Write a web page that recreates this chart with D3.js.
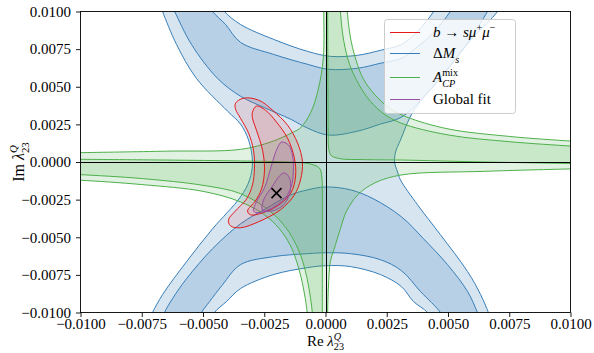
<!DOCTYPE html>
<html>
<head>
<meta charset="utf-8">
<script src="https://cdn.jsdelivr.net/npm/d3@7"></script>
<style>
  body { margin: 0; background: #fff; }
  svg { display: block; }
  text { font-family: "Liberation Serif", "DejaVu Serif", serif; fill: #000; }
</style>
</head>
<body>
<svg id="chart" width="594" height="353"></svg>
<script>
// every coordinate below is in units of 1e-3 (Re, Im of lambda_23^Q)
const tickValues = [-10, -7.5, -5, -2.5, 0, 2.5, 5, 7.5, 10]
const tickLabels = ['\u22120.0100', '\u22120.0075', '\u22120.0050', '\u22120.0025', '0.0000', '0.0025', '0.0050', '0.0075', '0.0100']

// Delta M_s : 2 sigma (outer) and 1 sigma (inner) contours
const dmsOuterLeft = [[-6.78, 10.6], [-6.65, 10], [-6.08, 7.81], [-5.27, 5.56], [-4.0, 3.38], [-3.47, 2.52], [-3.14, 1.46], [-2.98, 0], [-3.10, -1.19], [-3.47, -2.32], [-4.61, -4.44], [-5.67, -6.62], [-6.65, -8.81], [-7.06, -10], [-7.22, -10.6]]
const dmsOuterRight = [[7.18, 10.53], [7.02, 10], [5.92, 8.08], [4.90, 5.96], [3.59, 3.38], [3.06, 1.46], [2.86, 0.66], [2.82, 0], [2.94, -0.66], [3.06, -1.19], [3.76, -2.85], [4.69, -4.83], [5.80, -7.28], [6.33, -8.81], [6.65, -10], [6.78, -10.6]]
const dmsArcTopOuter = [[-4.29, 10.53], [-4.12, 10], [-3.47, 9.14], [-2.12, 8.15], [-0.73, 7.35], [0.20, 7.02], [1.31, 7.09], [2.24, 7.42], [3.10, 7.81], [3.67, 8.54], [4.08, 9.27], [4.41, 10], [4.57, 10.53]]
const dmsArcBotOuter = [[-4.69, -10.6], [-4.53, -10], [-4.04, -9.27], [-3.47, -8.41], [-2.12, -7.48], [-0.73, -7.02], [0.0, -6.89], [1.02, -6.95], [2.24, -7.48], [3.10, -8.28], [3.59, -9.27], [4.16, -10], [4.33, -10.6]]
const dmsBandTopLow = [[-6.33, 10.53], [-6.16, 10], [-5.47, 7.81], [-4.41, 5.56], [-3.47, 4.37], [-2.45, 3.58], [-1.43, 2.85], [-0.73, 2.25], [0.12, 1.79], [1.31, 2.05], [2.24, 2.52], [3.10, 2.98], [4.08, 4.44], [5.10, 6.42], [5.92, 8.21], [6.61, 10], [6.78, 10.53]]
const dmsBandTopHigh = [[-4.78, 10.53], [-4.61, 10], [-4.08, 9.14], [-3.47, 7.95], [-2.12, 7.15], [-0.73, 6.49], [0.12, 6.16], [1.31, 6.23], [2.24, 6.56], [3.10, 6.89], [3.67, 7.55], [4.37, 8.54], [5.10, 10], [5.31, 10.53]]
const dmsBandBotHigh = [[-6.69, -10.6], [-6.57, -10], [-6.24, -9.07], [-5.67, -7.75], [-4.61, -5.76], [-3.47, -4.11], [-2.45, -3.11], [-1.43, -2.19], [-0.73, -1.85], [0.0, -1.66], [1.02, -1.85], [1.96, -2.45], [3.10, -3.64], [4.0, -5.10], [4.98, -6.82], [5.80, -8.61], [6.20, -10], [6.33, -10.6]]
const dmsBandBotLow = [[-5.22, -10.6], [-5.06, -10], [-4.73, -9.27], [-4.20, -8.15], [-3.47, -6.82], [-2.12, -6.29], [-0.73, -6.09], [0.0, -6.03], [1.02, -6.09], [2.24, -6.49], [3.10, -7.22], [3.88, -8.61], [4.69, -10], [4.86, -10.6]]

// A_CP^mix contours (2 sigma: Q2/Q4 branch and outer Q1/Q3 branch; 1 sigma: inner + mid branch)
const acpQ2Outer = [[-10.6, 0.6], [-10, 0.62], [-6.5, 0.72], [-3.47, 0.84], [-2.2, 1.35], [-1.3, 2.0], [-1.02, 2.27], [-0.6, 3.3], [-0.3, 4.8], [-0.09, 6.9], [-0.07, 10], [-0.07, 10.6]]
const acpQ4Outer = [[10.6, -0.44], [10, -0.46], [6.5, -0.62], [3.1, -0.86], [2.0, -1.4], [1.31, -2.19], [0.85, -3.3], [0.61, -4.43], [0.35, -5.8], [0.2, -6.6], [0.12, -8.3], [0.09, -10], [0.09, -10.6]]
const acpQ1Inner = [[0.09, 10.6], [0.09, 10], [0.1, 5], [0.11, 2], [0.13, 0.9], [0.22, 0.45], [0.6, 0.22], [1.5, 0.16], [3.1, 0.13], [6.5, 0.0], [10, -0.1], [10.6, -0.12]]
const acpQ3Inner = [[-0.13, -10.6], [-0.13, -10], [-0.13, -5], [-0.13, -2], [-0.15, -1.0], [-0.25, -0.4], [-0.68, -0.11], [-1.5, 0.0], [-3.47, 0.07], [-6.5, 0.13], [-10, 0.18], [-10.6, 0.19]]
const acpQ1Mid = [[0.61, 10.6], [0.61, 10], [0.75, 8], [0.98, 6.5], [1.25, 5.5], [1.7, 4.3], [2.3, 3.3], [3.06, 2.6], [5, 1.8], [7.5, 1.35], [10, 1.06], [10.6, 1.0]]
const acpQ1Out = [[0.89, 10.6], [0.89, 10], [1.05, 8], [1.3, 6.5], [1.55, 5.5], [2.0, 4.5], [2.6, 3.6], [3.3, 3.0], [5, 2.2], [7.5, 1.7], [10, 1.39], [10.6, 1.33]]
const acpQ3Mid = [[-0.54, -10.6], [-0.54, -10], [-0.72, -8], [-0.95, -6.5], [-1.2, -5.5], [-1.6, -4.4], [-2.24, -3.3], [-3.47, -2.1], [-5, -1.55], [-7.5, -1.1], [-10, -0.84], [-10.6, -0.8]]
const acpQ3Out = [[-0.75, -10.6], [-0.75, -10], [-0.95, -8], [-1.2, -6.5], [-1.45, -5.5], [-1.9, -4.4], [-2.5, -3.5], [-3.47, -2.65], [-5, -1.95], [-7.5, -1.5], [-10, -1.21], [-10.6, -1.17]]

// b -> s mu mu
const bsmmOuter = [[-3.67, 3.91], [-3.35, 4.24], [-2.73, 4.11], [-2.16, 3.44], [-1.55, 2.45], [-1.14, 1.26], [-0.94, 0], [-1.02, -1.19], [-1.27, -2.19], [-1.84, -3.18], [-2.73, -3.97], [-3.47, -4.37], [-3.88, -4.24], [-3.96, -3.84], [-3.71, -3.31], [-3.22, -2.45], [-2.98, -1.52], [-2.90, -0.40], [-2.94, 0.79], [-3.14, 1.92], [-3.47, 2.91], [-3.67, 3.51]]
const bsmmInner = [[-2.98, 3.31], [-2.82, 3.71], [-2.45, 3.44], [-2.0, 2.65], [-1.55, 1.59], [-1.27, 0.26], [-1.22, -0.93], [-1.39, -1.99], [-1.84, -2.78], [-2.45, -3.31], [-3.06, -3.51], [-3.18, -3.25], [-2.86, -2.58], [-2.61, -1.79], [-2.49, -0.53], [-2.57, 0.79], [-2.82, 2.12], [-2.98, 2.91]]

// global fit
const globalOuter = [[-1.80, 1.32], [-1.51, 1.13], [-1.35, 0.46], [-1.31, -0.53], [-1.39, -1.59], [-1.67, -2.45], [-2.16, -3.05], [-2.73, -3.38], [-2.94, -3.25], [-2.82, -2.65], [-2.49, -1.72], [-2.20, -0.20], [-2.0, 0.79]]
const globalInner = [[-1.67, -0.73], [-1.47, -1.06], [-1.43, -1.85], [-1.67, -2.78], [-2.16, -3.25], [-2.57, -3.18], [-2.53, -2.52], [-2.16, -1.59], [-1.88, -0.93]]
const bestFit = [-2.0, -2.07]

const legendItems = ['bsmm', 'dms', 'acp', 'global']
const colors = { bsmm: '#e41a1c', dms: '#377eb8', acp: '#4daf4a', global: '#984ea3' }

const svg = d3.select('#chart')
const plot = { left: 80.5, right: 570.5, top: 11.5, bottom: 312.5 }
const x = d3.scaleLinear().domain([-10, 10]).range([plot.left, plot.right])
const y = d3.scaleLinear().domain([-10, 10]).range([plot.bottom, plot.top])

svg.append('defs').append('clipPath').attr('id', 'clip')
  .append('rect')
  .attr('x', plot.left).attr('y', plot.top)
  .attr('width', plot.right - plot.left).attr('height', plot.bottom - plot.top)

const g = svg.append('g').attr('clip-path', 'url(#clip)')

const open = d3.line().x(d => x(d[0])).y(d => y(d[1])).curve(d3.curveCatmullRom.alpha(0.5))
const closed = d3.line().x(d => x(d[0])).y(d => y(d[1])).curve(d3.curveCatmullRomClosed.alpha(0.5))
const rev = a => a.slice().reverse()
// join several open curves into one filled outline
const region = parts => parts.map((p, i) => i ? open(p).replace(/^M/, 'L') : open(p)).join('') + 'Z'

function fill(d, color, alpha) {
  g.append('path').attr('d', d).attr('fill', color).attr('fill-opacity', alpha).attr('stroke', 'none')
}
function stroke(d, color) {
  g.append('path').attr('d', d).attr('fill', 'none').attr('stroke', color).attr('stroke-width', 1)
}

// Delta M_s
fill(region([dmsOuterLeft, dmsArcBotOuter, rev(dmsOuterRight), rev(dmsArcTopOuter)]), colors.dms, 0.2)
fill(region([dmsBandTopLow, rev(dmsBandTopHigh)]), colors.dms, 0.2)
fill(region([dmsBandBotHigh, rev(dmsBandBotLow)]), colors.dms, 0.2)
;[dmsOuterLeft, dmsOuterRight, dmsArcTopOuter, dmsArcBotOuter, dmsBandTopLow, dmsBandTopHigh, dmsBandBotHigh, dmsBandBotLow]
  .forEach(c => stroke(open(c), colors.dms))

// A_CP^mix
fill(region([acpQ2Outer, acpQ1Out, acpQ4Outer, acpQ3Out]), colors.acp, 0.16)
fill(region([acpQ1Inner, rev(acpQ1Mid)]), colors.acp, 0.16)
fill(region([acpQ3Inner, rev(acpQ3Mid)]), colors.acp, 0.16)
;[acpQ2Outer, acpQ4Outer, acpQ1Inner, acpQ3Inner, acpQ1Mid, acpQ1Out, acpQ3Mid, acpQ3Out]
  .forEach(c => stroke(open(c), colors.acp))

// b -> s mu mu
fill(closed(bsmmOuter), colors.bsmm, 0.1)
fill(closed(bsmmInner), colors.bsmm, 0.1)
stroke(closed(bsmmOuter), colors.bsmm)
stroke(closed(bsmmInner), colors.bsmm)

// global fit
fill(closed(globalOuter), colors.global, 0.15)
fill(closed(globalInner), colors.global, 0.15)
stroke(closed(globalOuter), colors.global)
stroke(closed(globalInner), colors.global)

// zero lines
const x0 = Math.round(x(0)) + 0.5
const y0 = Math.round(y(0)) + 0.5
g.append('line').attr('x1', plot.left).attr('x2', plot.right).attr('y1', y0).attr('y2', y0).attr('stroke', '#000').attr('stroke-width', 1)
g.append('line').attr('y1', plot.top).attr('y2', plot.bottom).attr('x1', x0).attr('x2', x0).attr('stroke', '#000').attr('stroke-width', 1)

// best fit marker
const m = 5
const bx = x(bestFit[0])
const by = y(bestFit[1])
g.append('path')
  .attr('d', `M${bx - m},${by - m}L${bx + m},${by + m}M${bx - m},${by + m}L${bx + m},${by - m}`)
  .attr('stroke', '#000').attr('stroke-width', 1.6)

// axes
const fmt = d => tickLabels[tickValues.indexOf(d)]
const xAxis = svg.append('g').attr('transform', `translate(0,${plot.bottom})`)
  .call(d3.axisBottom(x).tickValues(tickValues).tickFormat(fmt).tickSize(4.5).tickPadding(1.5))
const yAxis = svg.append('g').attr('transform', `translate(${plot.left},0)`)
  .call(d3.axisLeft(y).tickValues(tickValues).tickFormat(fmt).tickSize(4.5).tickPadding(5))
;[xAxis, yAxis].forEach(a => {
  a.select('.domain').remove()
  a.selectAll('text').attr('font-size', 15).attr('font-family', '"Liberation Serif", serif')
  a.selectAll('line').attr('stroke', '#000').attr('stroke-width', 0.9)
})
svg.append('rect')
  .attr('x', plot.left).attr('y', plot.top)
  .attr('width', plot.right - plot.left).attr('height', plot.bottom - plot.top)
  .attr('fill', 'none').attr('stroke', '#000').attr('stroke-width', 0.9)

// simple math text: pieces of [text, 'i'|'n', 'sup'|'sub'|null, 'stack'?]
function mathText(parent, xs, ys, size, pieces, supShift = 0.42) {
  let cx = xs
  let last = 0
  pieces.forEach(p => {
    const [txt, style, shift, stack] = p
    const fs = shift ? size * 0.68 : size
    const dy = shift === 'sup' ? -size * supShift : shift === 'sub' ? size * 0.3 : 0
    const px = stack ? cx - last : cx
    const s = parent.append('text').attr('x', px).attr('y', ys + dy)
      .attr('font-size', fs).attr('font-style', style === 'i' ? 'italic' : 'normal').text(txt)
    const w = s.node().getComputedTextLength()
    cx = stack ? Math.max(cx, px + w) : px + w
    last = w
  })
  return cx
}
function textWidth(size, pieces) {
  const tmp = svg.append('g').attr('opacity', 0)
  const w = mathText(tmp, 0, 0, size, pieces)
  tmp.remove()
  return w
}

// axis titles
const reLabel = [['Re\u00a0', 'n'], ['\u03bb', 'i'], ['Q', 'i', 'sup'], ['23', 'n', 'sub', 'stack']]
const imLabel = [['Im\u00a0', 'n'], ['\u03bb', 'i'], ['Q', 'i', 'sup'], ['23', 'n', 'sub', 'stack']]
mathText(svg.append('g'), x(0) - textWidth(15, reLabel) / 2, 345.5, 15, reLabel, 0.36)
const yt = svg.append('g').attr('transform', `translate(24,${y(0)}) rotate(-90)`)
mathText(yt, -textWidth(16, imLabel) / 2, 0, 16, imLabel)

// legend
const lg = svg.append('g')
lg.append('rect').attr('x', 384.5).attr('y', 19.5).attr('width', 131).attr('height', 94).attr('rx', 3)
  .attr('fill', '#fff').attr('fill-opacity', 0.8).attr('stroke', '#ccc').attr('stroke-width', 1)
const rowY = [32, 53, 77, 99]
legendItems.forEach((k, i) => {
  lg.append('line').attr('x1', 390).attr('x2', 420).attr('y1', rowY[i] + 0.5).attr('y2', rowY[i] + 0.5)
    .attr('stroke', colors[k]).attr('stroke-width', 1)
})
mathText(lg, 433, rowY[0] + 5, 15, [['b', 'i'], ['\u00a0\u2192\u00a0', 'n'], ['s\u03bc', 'i'], ['+', 'n', 'sup'], ['\u03bc', 'i'], ['\u2212', 'n', 'sup']])
mathText(lg, 433, rowY[1] + 5, 15, [['\u0394', 'n'], ['M', 'i'], ['s', 'i', 'sub']])
mathText(lg, 433, rowY[2] + 5, 15, [['A', 'i'], ['mix', 'n', 'sup'], ['CP', 'i', 'sub', 'stack']])
mathText(lg, 433, rowY[3] + 5, 15, [['Global fit', 'n']])
</script>
</body>
</html>
